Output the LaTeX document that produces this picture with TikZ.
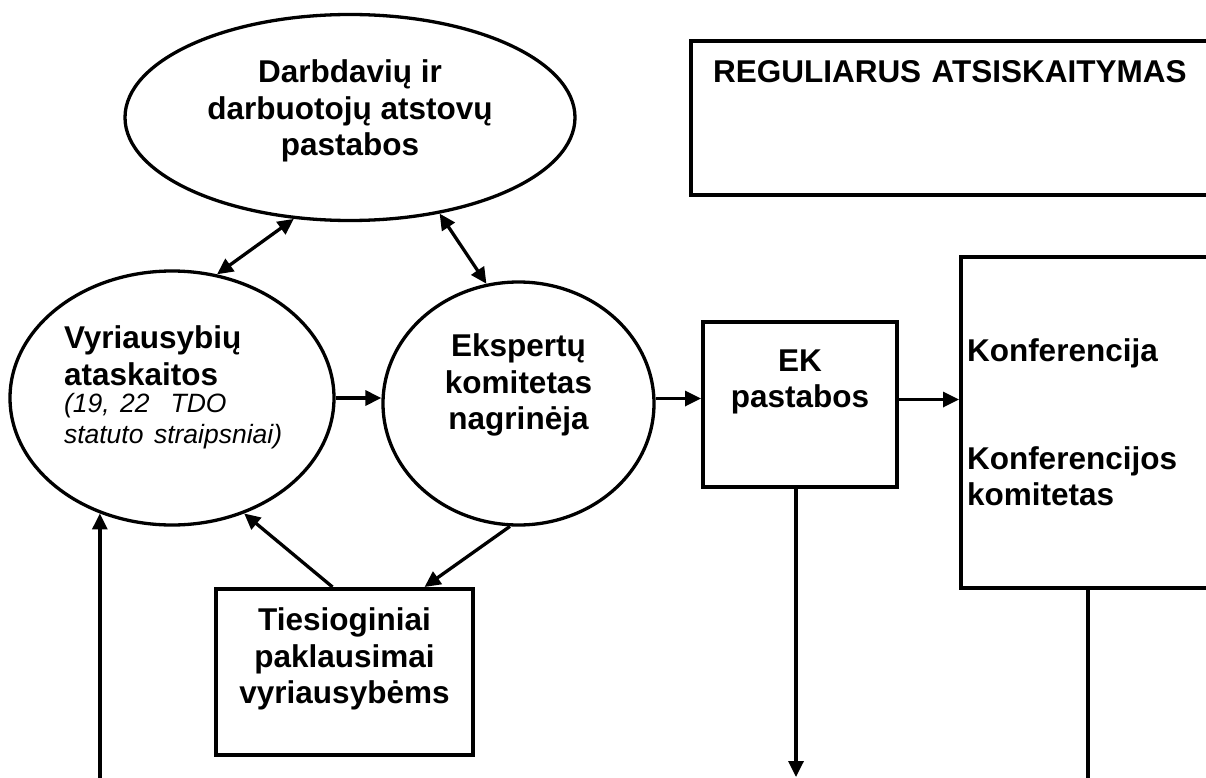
\documentclass[tikz,border=0pt]{standalone}
\usepackage{fontspec}
\setmainfont{Liberation Sans}
\usetikzlibrary{arrows.meta, shapes.geometric}
\frenchspacing
\newcommand{\lblfont}{\fontsize{31.5}{36.5}\selectfont\bfseries}
\newcommand{\notefont}{\fontsize{26.5}{31}\selectfont\mdseries\itshape}
\tikzstyle{oval}=[draw, ellipse, line width=3.3pt, inner sep=0pt, font=\lblfont, align=center]
\tikzstyle{panel}=[draw, rectangle, line width=4pt, inner sep=0pt, font=\lblfont, align=center]
\tikzstyle{link}=[line width=3.3pt, -{Triangle[length=16pt, width=15pt]}]
\tikzstyle{twoway}=[line width=3.3pt, {Triangle[length=16pt, width=15pt]}-{Triangle[length=16pt, width=15pt]}]

\begin{document}
\begin{tikzpicture}[x=1pt, y=-1pt]
        \useasboundingbox (0,0) rectangle (1206,778);
        \coordinate (bot) at (0,790); \coordinate (tipbot) at (0,777);
        % ovals
        \node[oval, minimum width=450pt, minimum height=206pt] (atstovai) at (350,117.5) {Darbdavių ir\\darbuotojų atstovų\\pastabos\rule[-19pt]{0pt}{0pt}};
        \node[oval, minimum width=324pt, minimum height=254pt, text width=216pt, align=left] (vyr) at (172,398) {Vyriausybių\\ataskaitos\\[-4pt]{\notefont\mbox{(19, 22\ \ TDO}\\[-5pt]\mbox{statuto straipsniai)}}\rule[-26pt]{0pt}{0pt}};
        \node[oval, minimum width=271pt, minimum height=243pt] (eks) at (518.5,403.5) {Ekspertų\\komitetas\\nagrinėja\rule[-43pt]{0pt}{0pt}};
        % boxes
        \node[panel, minimum width=194pt, minimum height=165pt] (ek) at (800,404.5) {EK\\pastabos\rule[-52pt]{0pt}{0pt}};
        \node[panel, minimum width=257pt, minimum height=166pt] (tie) at (344.5,672) {Tiesioginiai\\paklausimai\\vyriausybėms\rule[-32pt]{0pt}{0pt}};
        \node[panel, minimum width=524pt, minimum height=154pt, text width=480pt, inner xsep=22pt, align=left] (reg) at (953,118) {REGULIARUS ATSISKAITYMAS\rule[-93pt]{0pt}{0pt}};
        \node[panel, minimum width=254pt, minimum height=331pt, text width=242pt, inner xsep=6pt, align=left] (konf) at (1088,422.5) {Konferencija\\[71pt]Konferencijos\\komitetas};
        % connectors
        \draw[twoway] (atstovai.241) -- (vyr.70);
        \draw[twoway] (atstovai.313) -- (eks.105);
        \draw[link] (vyr.east) -- (vyr.east -| eks.west);
        \coordinate (eksout) at ([yshift=5pt]eks.east); \coordinate (ekout) at ([yshift=5pt]ek.east);
        \draw[link] (eksout) -- (eksout -| ek.west);
        \draw[link] (ekout) -- (ekout -| konf.west);
        \coordinate (tiein) at ([xshift=80pt]tie.north); \coordinate (tieout) at ([xshift=-12pt]tie.north);
        \draw[link] (eks.266) -- (tiein);
        \draw[link] (tieout) -- (vyr.302);
        \draw[link] (vyr.238 |- bot) -- (vyr.238);
        \coordinate (ekdown) at ([xshift=-4pt]ek.south);
        \draw[link] (ekdown) -- (ekdown |- tipbot);
        \draw[line width=3.3pt] (konf.south) -- (konf.south |- bot);
    \end{tikzpicture}
\end{document}
